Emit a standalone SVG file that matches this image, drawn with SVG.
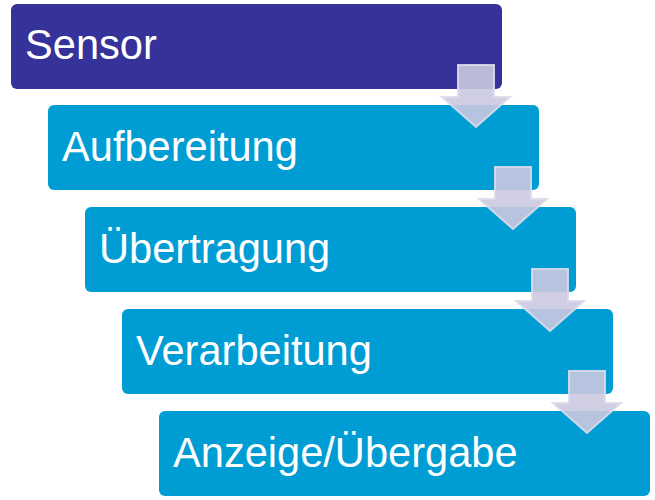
<svg xmlns="http://www.w3.org/2000/svg" width="655" height="500" viewBox="0 0 655 500">
<style>
.box{stroke:none}
.p{fill:#353399}
.b{fill:#009dd4}
.t{font-family:"Liberation Sans",Arial,sans-serif;font-size:41.6px;fill:#ffffff}
.arr{fill:#cbc9e0;fill-opacity:0.9;stroke:#dcdbea;stroke-opacity:0.9;stroke-width:2;stroke-linejoin:miter}
</style>
<rect width="655" height="500" fill="#ffffff"/>
<g id="node-sensor"><rect class="box p" x="11" y="4" width="491" height="85" rx="6"/><text class="t" x="25" y="59">Sensor</text></g>
<g id="node-aufbereitung"><rect class="box b" x="48" y="105" width="491" height="85" rx="6"/><text class="t" x="62" y="161">Aufbereitung</text></g>
<g id="node-uebertragung"><rect class="box b" x="85" y="207" width="491" height="85" rx="6"/><text class="t" x="99" y="263">Übertragung</text></g>
<g id="node-verarbeitung"><rect class="box b" x="122" y="309" width="491" height="85" rx="6"/><text class="t" x="136" y="365">Verarbeitung</text></g>
<g id="node-anzeige"><rect class="box b" x="159" y="411" width="491" height="85" rx="6"/><text class="t" x="173" y="467">Anzeige/Übergabe</text></g>
<g id="connectors">
<path class="arr" d="M458,65 H494 V97 H510 L476,127 L442,97 H458 Z"/>
<path class="arr" d="M495,167 H531 V199 H547 L513,229 L479,199 H495 Z"/>
<path class="arr" d="M532,269 H568 V301 H584 L550,331 L516,301 H532 Z"/>
<path class="arr" d="M569,371 H605 V403 H621 L587,433 L553,403 H569 Z"/>
</g>
</svg>
